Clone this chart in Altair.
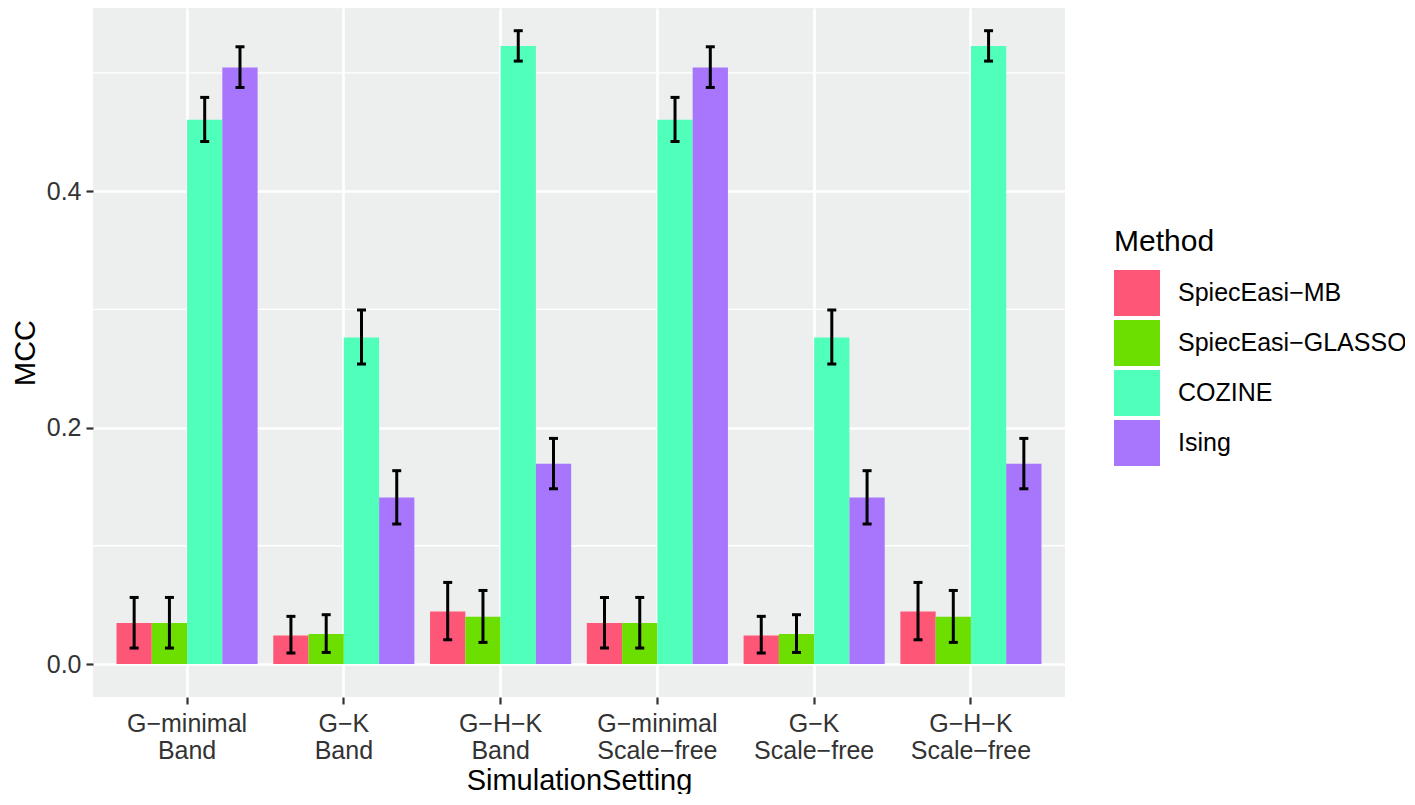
import altair as alt
import pandas as pd

settings = ["G−minimal\nBand", "G−K\nBand", "G−H−K\nBand",
            "G−minimal\nScale−free", "G−K\nScale−free", "G−H−K\nScale−free"]
methods = ["SpiecEasi−MB", "SpiecEasi−GLASSO", "COZINE", "Ising"]
colors = ["#FD5677", "#6DDF00", "#4FFFBA", "#A776FC"]

mcc_mb = [0.0347, 0.0242, 0.0445, 0.0347, 0.0242, 0.0445]
mcc_glasso = [0.0347, 0.0254, 0.0400, 0.0347, 0.0254, 0.0400]
mcc_cozine = [0.4603, 0.2762, 0.5226, 0.4603, 0.2762, 0.5226]
mcc_ising = [0.5045, 0.1409, 0.1694, 0.5045, 0.1409, 0.1694]

lo_mb = [0.0135, 0.0093, 0.0205, 0.0135, 0.0093, 0.0205]
hi_mb = [0.0563, 0.0403, 0.0690, 0.0563, 0.0403, 0.0690]
lo_glasso = [0.0135, 0.0098, 0.0183, 0.0135, 0.0098, 0.0183]
hi_glasso = [0.0563, 0.0417, 0.0622, 0.0563, 0.0417, 0.0622]
lo_cozine = [0.4419, 0.2537, 0.5099, 0.4419, 0.2537, 0.5099]
hi_cozine = [0.4792, 0.2994, 0.5356, 0.4792, 0.2994, 0.5356]
lo_ising = [0.4876, 0.1184, 0.1482, 0.4876, 0.1184, 0.1482]
hi_ising = [0.5220, 0.1635, 0.1908, 0.5220, 0.1635, 0.1908]

minor_grid = [0.1, 0.3, 0.5]

vals = [mcc_mb, mcc_glasso, mcc_cozine, mcc_ising]
los = [lo_mb, lo_glasso, lo_cozine, lo_ising]
his = [hi_mb, hi_glasso, hi_cozine, hi_ising]

rows = []
for m, v, l, h in zip(methods, vals, los, his):
    for s, vv, ll, hh in zip(settings, v, l, h):
        rows.append({"setting": s, "method": m, "mcc": vv, "lo": ll, "hi": hh})
df = pd.DataFrame(rows)
grid_df = pd.DataFrame({"g": minor_grid})

FONT = "Liberation Sans"
TICK_TEXT = "#333333"

x_enc = alt.X("setting:N", sort=settings, title="SimulationSetting",
              scale=alt.Scale(paddingInner=0.1, paddingOuter=0.15),
              axis=alt.Axis(labelExpr="split(datum.label, '\\n')", labelAngle=0,
                            labelFontSize=25, labelColor=TICK_TEXT, labelLineHeight=27,
                            labelPadding=7, tickSize=7, tickWidth=2.2, tickColor="#333333",
                            domain=False, grid=True, gridColor="white", gridWidth=2.6,
                            bandPosition=0.5, titleFontSize=29, titleFontWeight="normal",
                            titleColor="black", titlePadding=3))
xo_enc = alt.XOffset("method:N", sort=methods,
                     scale=alt.Scale(paddingInner=0, paddingOuter=0))
y_scale = alt.Scale(domain=[-0.0279, 0.5548], nice=False, zero=False)
y_axis = alt.Axis(values=[0, 0.2, 0.4], format=".1f", labelFontSize=25,
                  labelColor=TICK_TEXT, labelPadding=5, tickSize=7, tickWidth=2.2,
                  tickColor="#333333", domain=False, grid=True, gridColor="white",
                  gridWidth=2.6, titleFontSize=29, titleFontWeight="normal",
                  titleColor="black", titlePadding=6)

base = alt.Chart(df)

minor = alt.Chart(grid_df).mark_rule(color="white", strokeWidth=1.3).encode(
    y=alt.Y("g:Q", scale=y_scale, axis=y_axis, title="MCC")
)

bars = base.mark_bar().encode(
    x=x_enc,
    xOffset=xo_enc,
    y=alt.Y("mcc:Q", scale=y_scale, axis=y_axis, title="MCC", stack=None),
    color=alt.Color("method:N", sort=methods,
                    scale=alt.Scale(domain=methods, range=colors),
                    legend=alt.Legend(title="Method", orient="none", legendX=1021, legendY=219,
                                      titleFontSize=30, titleFontWeight="normal",
                                      titleColor="black", titlePadding=13,
                                      labelFontSize=25, labelColor="black", labelOffset=18,
                                      labelLimit=500, symbolType="square", symbolSize=2116,
                                      symbolStrokeWidth=0, symbolOpacity=1, rowPadding=4)),
)

err = base.mark_rule(color="black", strokeWidth=3).encode(
    x=x_enc, xOffset=xo_enc,
    y=alt.Y("lo:Q", scale=y_scale), y2="hi:Q",
)

cap_lo = base.mark_tick(color="black", size=9, thickness=3, opacity=1).encode(
    x=x_enc, xOffset=xo_enc, y=alt.Y("lo:Q", scale=y_scale),
)
cap_hi = base.mark_tick(color="black", size=9, thickness=3, opacity=1).encode(
    x=x_enc, xOffset=xo_enc, y=alt.Y("hi:Q", scale=y_scale),
)

chart = alt.layer(minor, bars, err, cap_lo, cap_hi).properties(
    width=972, height=689,
    autosize=alt.AutoSizeParams(type="none"),
    padding={"left": 85, "top": 0, "right": 340, "bottom": 97},
).configure(font=FONT).configure_view(fill="#EDEEEE", strokeWidth=0)

chart.save("out.html", embed_options={"renderer": "svg", "actions": False})
